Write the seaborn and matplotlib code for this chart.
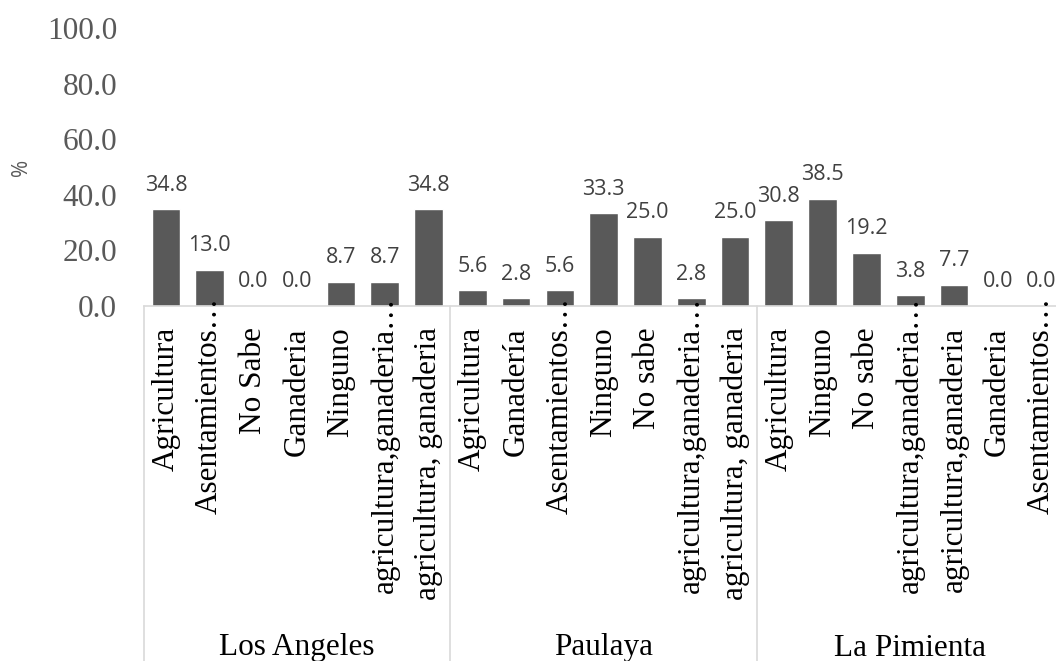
import matplotlib
matplotlib.use("Agg")
import matplotlib.pyplot as plt
import seaborn as sns
import pandas as pd
from matplotlib.transforms import offset_copy

# ---- data ----
groups = ["Los Angeles", "Paulaya", "La Pimienta"]
cats_la = ["Agricultura", "Asentamientos…", "No Sabe", "Ganaderia", "Ninguno",
           "agricultura,ganaderia…", "agricultura, ganaderia"]
vals_la = [34.8, 13.0, 0.0, 0.0, 8.7, 8.7, 34.8]
cats_pa = ["Agricultura", "Ganadería", "Asentamientos…", "Ninguno", "No sabe",
           "agricultura,ganaderia…", "agricultura, ganaderia"]
vals_pa = [5.6, 2.8, 5.6, 33.3, 25.0, 2.8, 25.0]
cats_lp = ["Agricultura", "Ninguno", "No sabe", "agricultura,ganaderia…",
           "agricultura,ganaderia", "Ganaderia", "Asentamientos…"]
vals_lp = [30.8, 38.5, 19.2, 3.8, 7.7, 0.0, 0.0]
y_ticks = [0, 20, 40, 60, 80, 100]

rows = []
for g, cats, vals in zip(groups, [cats_la, cats_pa, cats_lp], [vals_la, vals_pa, vals_lp]):
    for c, v in zip(cats, vals):
        rows.append({"group": g, "cat": c, "value": v, "key": f"{g}|{c}"})
df = pd.DataFrame(rows)
keys = list(df["key"])

sns.set_style("white")
plt.rcParams["font.family"] = ["Liberation Serif", "DejaVu Serif"]

fig = plt.figure(figsize=(10.56, 6.61), dpi=100)
ax = fig.add_axes([144 / 1056, (661 - 306) / 661, 919.4 / 1056, 278 / 661])

sns.barplot(data=df, x="key", y="value", order=keys, color="#595959",
            saturation=1, width=0.655, ax=ax)

ax.set_xlim(-0.5, len(keys) - 0.5)
ax.set_ylim(0, 100)
ax.set_yticks(y_ticks)
ax.set_yticklabels([f"{t:.1f}" for t in y_ticks], fontfamily="Liberation Serif",
                   fontsize=22.5, color="#595959")
ax.tick_params(axis="y", length=0, pad=19.4)
ax.set_xticks([])
ax.set_xlabel("")
ax.set_ylabel("%", fontsize=15, color="#595959", fontfamily="Open Sans")
ax.yaxis.set_label_coords(-0.122, 0.5)

for s in ["top", "right", "left"]:
    ax.spines[s].set_visible(False)
ax.spines["bottom"].set_color("#d9d9d9")
ax.spines["bottom"].set_linewidth(1.2)

# category labels
xt = ax.get_xaxis_transform()
for i, c in enumerate(df["cat"]):
    dy = 9 if c.endswith("…") else -21
    tr = offset_copy(xt, fig=fig, x=0, y=dy, units="dots")
    ax.text(i, 0, c, transform=tr, rotation=90, ha="center", va="top",
            fontsize=22.5, color="black", fontfamily="Liberation Serif")

# group labels
n = 0
for g, cats in zip(groups, [cats_la, cats_pa, cats_lp]):
    center = n + (len(cats) - 1) / 2
    tr = offset_copy(xt, fig=fig, x=0, y=-342, units="dots")
    ax.text(center, 0, g, transform=tr, ha="center", va="center",
            fontsize=22.5, color="black", fontfamily="Liberation Serif")
    n += len(cats)

# group separators
bounds = [-0.5, 6.5, 13.5, 20.5]
for b in bounds:
    ax.plot([b, b], [0, -1.3], transform=xt, color="#d9d9d9", lw=1.2, clip_on=False)

# data labels
for i, v in enumerate(df["value"]):
    ax.annotate(f"{v:.1f}", xy=(i, v), xytext=(0, 17.3), textcoords="offset points",
                ha="center", va="center", fontsize=15.5, color="#404040",
                fontfamily="Open Sans")

fig.savefig("out.png", dpi=100)
